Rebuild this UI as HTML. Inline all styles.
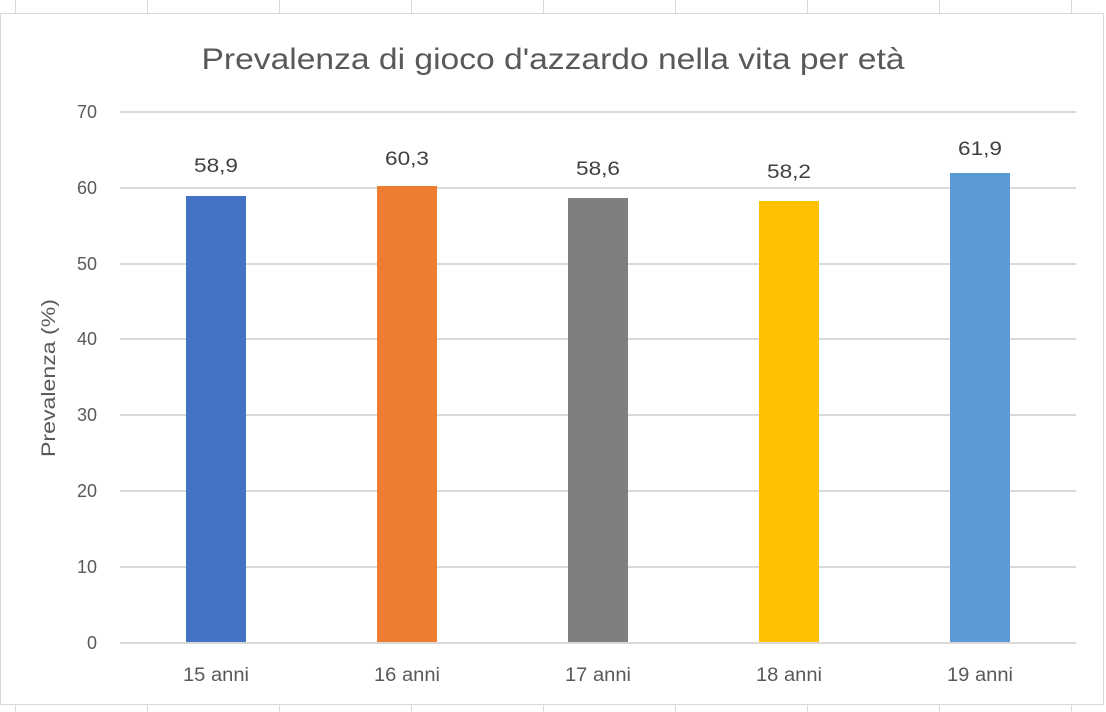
<!DOCTYPE html>
<html><head><meta charset="utf-8"><style>
html,body{margin:0;padding:0;background:#fff;}
svg{display:block;font-family:"Liberation Sans",sans-serif;}
</style></head><body>
<svg width="1106" height="712" viewBox="0 0 1106 712">
<rect width="1106" height="712" fill="#fff"/>
<g stroke="#d9d9d9" stroke-width="1">
<line x1="15.5" y1="0" x2="15.5" y2="13"/><line x1="147.5" y1="0" x2="147.5" y2="13"/><line x1="279.5" y1="0" x2="279.5" y2="13"/><line x1="411.5" y1="0" x2="411.5" y2="13"/><line x1="543.5" y1="0" x2="543.5" y2="13"/><line x1="675.5" y1="0" x2="675.5" y2="13"/><line x1="807.5" y1="0" x2="807.5" y2="13"/><line x1="939.5" y1="0" x2="939.5" y2="13"/><line x1="1071.5" y1="0" x2="1071.5" y2="13"/>
<line x1="15.5" y1="705" x2="15.5" y2="712"/><line x1="147.5" y1="705" x2="147.5" y2="712"/><line x1="279.5" y1="705" x2="279.5" y2="712"/><line x1="411.5" y1="705" x2="411.5" y2="712"/><line x1="543.5" y1="705" x2="543.5" y2="712"/><line x1="675.5" y1="705" x2="675.5" y2="712"/><line x1="807.5" y1="705" x2="807.5" y2="712"/><line x1="939.5" y1="705" x2="939.5" y2="712"/><line x1="1071.5" y1="705" x2="1071.5" y2="712"/>
</g>
<rect x="0.5" y="13.5" width="1103" height="691" fill="#fff" stroke="#d9d9d9"/>
<text x="553" y="69" text-anchor="middle" font-size="30" fill="#595959" textLength="703" lengthAdjust="spacingAndGlyphs">Prevalenza di gioco d'azzardo nella vita per età</text>
<g stroke="#d9d9d9" stroke-width="2">
<line x1="120" y1="112" x2="1076" y2="112"/><line x1="120" y1="188" x2="1076" y2="188"/><line x1="120" y1="264" x2="1076" y2="264"/><line x1="120" y1="339" x2="1076" y2="339"/><line x1="120" y1="415" x2="1076" y2="415"/><line x1="120" y1="491" x2="1076" y2="491"/><line x1="120" y1="567" x2="1076" y2="567"/><line x1="120" y1="643" x2="1076" y2="643"/>
</g>
<g font-size="18" fill="#595959" text-anchor="end">
<text x="97" y="118">70</text><text x="97" y="194">60</text><text x="97" y="270">50</text><text x="97" y="345">40</text><text x="97" y="421">30</text><text x="97" y="497">20</text><text x="97" y="573">10</text><text x="97" y="649">0</text>
</g>
<text transform="translate(55,378) rotate(-90)" text-anchor="middle" font-size="19" fill="#595959" textLength="158" lengthAdjust="spacingAndGlyphs">Prevalenza (%)</text>
<rect x="186" y="196" width="60" height="446" fill="#4472c4"/>
<rect x="377" y="186" width="60" height="456" fill="#ed7d31"/>
<rect x="568" y="198" width="60" height="444" fill="#7f7f7f"/>
<rect x="759" y="201" width="60" height="441" fill="#ffc000"/>
<rect x="950" y="173" width="60" height="469" fill="#5b9bd5"/>
<g font-size="19" fill="#404040" text-anchor="middle">
<text x="216" y="172" textLength="44" lengthAdjust="spacingAndGlyphs">58,9</text><text x="407" y="165" textLength="44" lengthAdjust="spacingAndGlyphs">60,3</text><text x="598" y="175" textLength="44" lengthAdjust="spacingAndGlyphs">58,6</text><text x="789" y="178" textLength="44" lengthAdjust="spacingAndGlyphs">58,2</text><text x="980" y="155" textLength="44" lengthAdjust="spacingAndGlyphs">61,9</text>
</g>
<g font-size="19" fill="#595959" text-anchor="middle">
<text x="216" y="681" textLength="66" lengthAdjust="spacingAndGlyphs">15 anni</text><text x="407" y="681" textLength="66" lengthAdjust="spacingAndGlyphs">16 anni</text><text x="598" y="681" textLength="66" lengthAdjust="spacingAndGlyphs">17 anni</text><text x="789" y="681" textLength="66" lengthAdjust="spacingAndGlyphs">18 anni</text><text x="980" y="681" textLength="66" lengthAdjust="spacingAndGlyphs">19 anni</text>
</g>
</svg>
</body></html>
